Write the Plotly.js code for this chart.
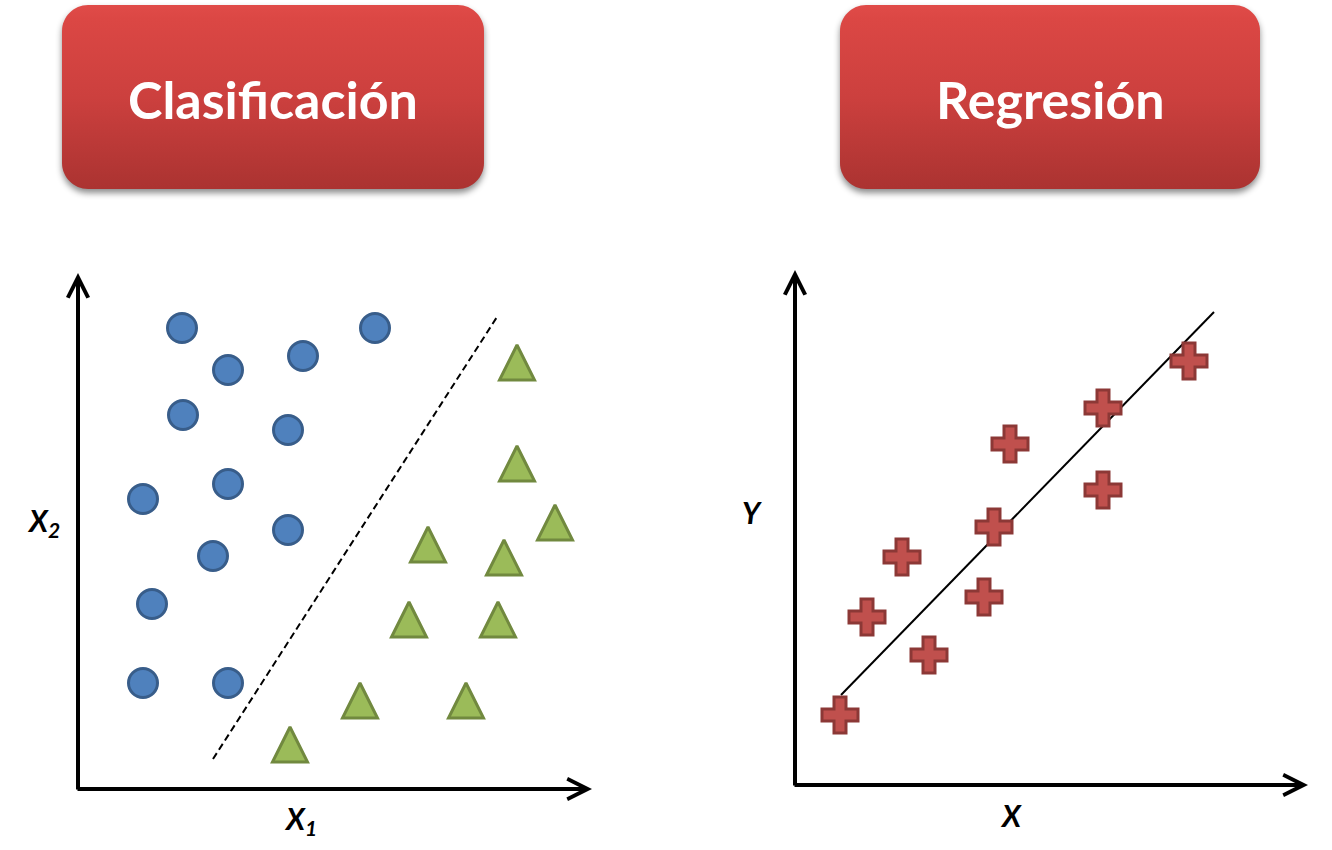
<!DOCTYPE html>
<html>
<head>
<meta charset="utf-8">
<script src="https://cdn.plot.ly/plotly-3.0.1.min.js"></script>
<style>
  html, body { margin: 0; padding: 0; background: #ffffff; }
  #chart { width: 1332px; height: 850px; }
</style>
</head>
<body>
<div id="chart"></div>
<script>
// ---------------- data (arbitrary schematic units) ----------------
const panelTitles = ["Clasificación", "Regresión"];

// Classification: class A (blue circles)
const circleX = [20.8, 30, 45, 59.4, 21, 42, 13, 30, 42, 27, 14.8, 13, 30];
const circleY = [92.2, 83.8, 86.6, 92.2, 74.8, 71.8, 58, 61, 51.8, 46.6, 37, 21.2, 21.2];

// Classification: class B (green triangles; value = apex of the triangle)
const triX = [87.8, 87.8, 95.4, 70, 85.2, 66.2, 84, 56.4, 77.6, 42.4];
const triY = [88.8, 68.6, 56.8, 52.4, 49.8, 37.4, 37.4, 21.2, 21.2, 12.4];

// Classification: decision boundary (dashed)
const boundaryX = [27, 83.8];
const boundaryY = [6, 94.4];

// Regression: observations (red crosses)
const crossX = [9, 14.4, 21.4, 26.8, 37.8, 39.8, 43, 61.6, 61.6, 78.8];
const crossY = [14, 33.6, 45.6, 26, 37.6, 51.6, 68.2, 75.4, 59, 84.8];

// Regression: fitted line
const fitX = [9.2, 83.8];
const fitY = [18, 94.6];

// Axis labels
const axisLabels = {
  x1: "<b><i>X</i></b><sub><b><i>1</i></b></sub>",
  y1: "<b><i>X</i></b><sub><b><i>2</i></b></sub>",
  x2: "<b><i>X</i></b>",
  y2: "<b><i>Y</i></b>"
};

// ---------------- layout helpers ----------------
const W = 1332, H = 850;
const PX_PER_UNIT = 5;
const px = v => v / W;
const py = v => 1 - v / H;

// plot areas in pixels: left, right (arrow tip), bottom (origin), top (arrow tip)
const leftArea  = { l: 78,  r: 592,  b: 789, t: 273 };
const rightArea = { l: 795, r: 1308, b: 785, t: 270 };

function axisFor(area, horizontal) {
  if (horizontal) {
    return { domain: [px(area.l), px(area.r)], range: [0, (area.r - area.l) / PX_PER_UNIT], visible: false, fixedrange: true };
  }
  return { domain: [py(area.b), py(area.t)], range: [0, (area.b - area.t) / PX_PER_UNIT], visible: false, fixedrange: true };
}

function roundRect(x0, y0, x1, y1, r) {
  const X = v => px(v).toFixed(5), Y = v => py(v).toFixed(5);
  const k = 0.45 * r;
  return `M${X(x0 + r)},${Y(y0)} H${X(x1 - r)} C${X(x1 - k)},${Y(y0)} ${X(x1)},${Y(y0 + k)} ${X(x1)},${Y(y0 + r)} ` +
         `V${Y(y1 - r)} C${X(x1)},${Y(y1 - k)} ${X(x1 - k)},${Y(y1)} ${X(x1 - r)},${Y(y1)} ` +
         `H${X(x0 + r)} C${X(x0 + k)},${Y(y1)} ${X(x0)},${Y(y1 - k)} ${X(x0)},${Y(y1 - r)} ` +
         `V${Y(y0 + r)} C${X(x0)},${Y(y0 + k)} ${X(x0 + k)},${Y(y0)} ${X(x0 + r)},${Y(y0)} Z`;
}

const boxes = [
  { x0: 62,  y0: 5, x1: 484,  y1: 189, cx: 273,  cy: 99 },
  { x0: 840, y0: 5, x1: 1260, y1: 189, cx: 1050, cy: 99 }
];

// ---------------- traces ----------------
const traces = [
  {
    type: "scatter", mode: "lines", x: boundaryX, y: boundaryY, xaxis: "x", yaxis: "y",
    line: { color: "#000000", width: 2, dash: "7px,4px" }, hoverinfo: "skip", showlegend: false
  },
  {
    type: "scatter", mode: "markers", x: circleX, y: circleY, xaxis: "x", yaxis: "y",
    marker: { symbol: "circle", size: 29, color: "#4f81bd", line: { color: "#385d8a", width: 3 } },
    showlegend: false, cliponaxis: false
  },
  {
    type: "scatter", mode: "markers", x: triX, y: triY, xaxis: "x", yaxis: "y",
    marker: { symbol: "arrow-up", size: 35, color: "#9bbb59", line: { color: "#71893f", width: 3 } },
    showlegend: false, cliponaxis: false
  },
  {
    type: "scatter", mode: "lines", x: fitX, y: fitY, xaxis: "x2", yaxis: "y2",
    line: { color: "#000000", width: 2 }, hoverinfo: "skip", showlegend: false
  },
  {
    type: "scatter", mode: "markers", x: crossX, y: crossY, xaxis: "x2", yaxis: "y2",
    marker: { symbol: "cross", size: 30, color: "#c0504d", line: { color: "#8c3836", width: 3 } },
    showlegend: false, cliponaxis: false
  }
];

// ---------------- annotations ----------------
function axisArrow(xref, yref, x, y, ax, ay) {
  return {
    xref, yref, axref: xref, ayref: yref, x, y, ax, ay, text: "",
    showarrow: true, arrowhead: 5, arrowsize: 1, arrowwidth: 4, arrowcolor: "#000000",
    standoff: 0, startstandoff: 0
  };
}
const lx = axisFor(leftArea, true).range[1], ly = axisFor(leftArea, false).range[1];
const rx = axisFor(rightArea, true).range[1], ry = axisFor(rightArea, false).range[1];

const labelFont = { family: "Lato, 'Open Sans', sans-serif", size: 30, color: "#000000" };
const titleFont = { family: "Lato, 'Open Sans', sans-serif", size: 52, color: "#ffffff", weight: 700 };

const annotations = [
  axisArrow("x", "y", 0, ly, 0, -0.4),
  axisArrow("x", "y", lx, 0, -0.4, 0),
  axisArrow("x2", "y2", 0, ry, 0, -0.4),
  axisArrow("x2", "y2", rx, 0, -0.4, 0),
  { xref: "paper", yref: "paper", x: px(300), y: py(820), text: axisLabels.x1, showarrow: false, font: labelFont, xanchor: "center", yanchor: "middle" },
  { xref: "paper", yref: "paper", x: px(43),  y: py(522), text: axisLabels.y1, showarrow: false, font: labelFont, xanchor: "center", yanchor: "middle" },
  { xref: "paper", yref: "paper", x: px(1011), y: py(815), text: axisLabels.x2, showarrow: false, font: labelFont, xanchor: "center", yanchor: "middle" },
  { xref: "paper", yref: "paper", x: px(752), y: py(512), text: axisLabels.y2, showarrow: false, font: labelFont, xanchor: "center", yanchor: "middle" }
];
boxes.forEach((b, i) => {
  annotations.push({ xref: "paper", yref: "paper", x: px(b.cx), y: py(b.cy), text: panelTitles[i],
    showarrow: false, font: titleFont, xanchor: "center", yanchor: "middle" });
});

const shapes = boxes.map(b => ({
  type: "path", xref: "paper", yref: "paper", path: roundRect(b.x0, b.y0, b.x1, b.y1, 26),
  fillcolor: "#c9403e", line: { width: 0 }, layer: "below", opacity: 1
}));

const layout = {
  width: W, height: H,
  margin: { l: 0, r: 0, t: 0, b: 0 },
  paper_bgcolor: "#ffffff", plot_bgcolor: "rgba(0,0,0,0)",
  showlegend: false,
  xaxis: axisFor(leftArea, true), yaxis: axisFor(leftArea, false),
  xaxis2: axisFor(rightArea, true), yaxis2: axisFor(rightArea, false),
  shapes, annotations
};

Plotly.newPlot("chart", traces, layout, { staticPlot: true, displayModeBar: false }).then(gd => {
  const svg = gd.querySelector("svg.main-svg");
  const ns = "http://www.w3.org/2000/svg";
  let defs = svg.querySelector("defs");
  if (!defs) { defs = document.createElementNS(ns, "defs"); svg.insertBefore(defs, svg.firstChild); }
  const grad = document.createElementNS(ns, "linearGradient");
  grad.setAttribute("id", "titleBoxGrad");
  grad.setAttribute("x1", "0"); grad.setAttribute("y1", "0");
  grad.setAttribute("x2", "0"); grad.setAttribute("y2", "1");
  [["0", "#e04b48"], ["0.08", "#db4744"], ["0.5", "#cc403e"], ["1", "#ab3331"]].forEach(([o, c]) => {
    const s = document.createElementNS(ns, "stop");
    s.setAttribute("offset", o); s.setAttribute("stop-color", c);
    grad.appendChild(s);
  });
  defs.appendChild(grad);
  gd.querySelectorAll(".shapelayer path").forEach(p => {
    p.style.fill = "url(#titleBoxGrad)";
    p.style.fillOpacity = "1";
    p.style.filter = "drop-shadow(0px 4px 3px rgba(0,0,0,0.45))";
  });
  // drop every empty text node (axis arrows carry no text)
  gd.querySelectorAll("text").forEach(t => {
    if (!t.textContent.trim()) t.remove();
  });
});
</script>
</body>
</html>
